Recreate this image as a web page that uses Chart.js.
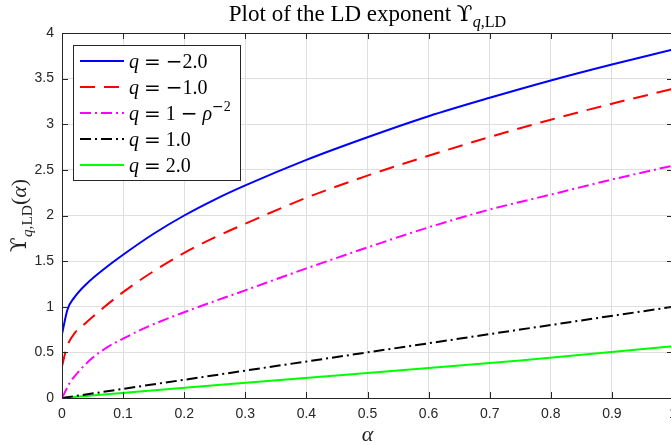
<!DOCTYPE html>
<html>
<head>
<meta charset="utf-8">
<script src="https://cdn.jsdelivr.net/npm/chart.js@4"></script>
<style>
  html, body { margin: 0; padding: 0; background: #fff; overflow: hidden; }
  #wrap { width: 671px; height: 445px; overflow: hidden; position: relative; }
  canvas { display: block; }
</style>
</head>
<body>
<div id="wrap"><canvas id="myCanvas" width="680" height="445"></canvas></div>
<script>
// values
const blueAlpha = [0, 0.009, 0.02, 0.04, 0.07, 0.1, 0.15, 0.2, 0.25, 0.3, 0.4, 0.5, 0.6, 0.7, 0.8, 0.9, 1.0];
const blueY = [0.70, 0.97, 1.10, 1.25, 1.42, 1.57, 1.80, 2.00, 2.175, 2.33, 2.61, 2.858, 3.088, 3.29, 3.48, 3.655, 3.819];

const redAlpha = [0, 0.008, 0.021, 0.035, 0.0625, 0.1, 0.15, 0.2, 0.25, 0.3, 0.4, 0.5, 0.6, 0.7, 0.8, 0.9, 1.0];
const redY = [0.347, 0.56, 0.713, 0.80, 0.96, 1.16, 1.39, 1.59, 1.76, 1.91, 2.195, 2.437, 2.655, 2.86, 3.05, 3.225, 3.388];

const magentaAlpha = [0, 0.0132, 0.03, 0.05, 0.075, 0.1, 0.133, 0.2, 0.3, 0.4, 0.5, 0.6, 0.7, 0.8, 0.9, 1.0];
const magentaY = [0, 0.17, 0.31, 0.44, 0.56, 0.65, 0.76, 0.94, 1.18, 1.42, 1.65, 1.87, 2.065, 2.229, 2.394, 2.547];

const blackAlpha = [0, 0.25, 0.5, 0.75, 1.0];
const blackY = [0, 0.25, 0.5, 0.75, 1.0];

const greenAlpha = [0, 0.25, 0.5, 0.75, 1.0];
const greenY = [0, 0.14, 0.275, 0.41, 0.566];

const seriesLabels = ['$q = −2.0$', '$q = −1.0$', '$q = 1 − ρ^{−2}$', '$q = 1.0$', '$q = 2.0$'];
const titleText = 'Plot of the LD exponent $ϒ_{q,LD}$';
const xLabelText = '$α$';
const yLabelText = '$ϒ_{q,LD}(α)$';

const axisColor = '#262626';
const serif = '"Liberation Serif", "DejaVu Serif", serif';

function points(xs, ys) {
  return xs.map((x, i) => ({ x: x, y: ys[i] }));
}

// tiny LaTeX-ish text: $..$ math, _{..} and ^{..}
function parseRich(str, size) {
  const items = [];
  let math = false;
  function walk(s, sz, dy) {
    for (let i = 0; i < s.length; i++) {
      const c = s[i];
      if (c === '$') { math = !math; continue; }
      if (math && (c === '_' || c === '^') && s[i + 1] === '{') {
        const end = s.indexOf('}', i);
        walk(s.slice(i + 2, end), sz * 0.7, dy + (c === '_' ? sz * 0.25 : -sz * 0.42));
        i = end;
        continue;
      }
      let font;
      if (!math) font = sz + 'px ' + serif;
      else if (c === ' ') { items.push({ t: '', w: sz * 0.25, dy: dy }); continue; }
      else if ('=−+'.includes(c)) font = sz + 'px "DejaVu Sans"';
      else if (c === 'ϒ') font = sz + 'px "DejaVu Serif"';
      else if (/[a-zα-ω]/.test(c)) font = 'italic ' + sz + 'px ' + serif;
      else font = sz + 'px ' + serif;
      items.push({ t: c, font: font, dy: dy });
    }
  }
  walk(str, size, 0);
  return items;
}

function drawRich(ctx, str, size, x, y, align) {
  const items = parseRich(str, size);
  let total = 0;
  items.forEach(it => {
    if (it.w == null) { ctx.font = it.font; it.w = ctx.measureText(it.t).width; }
    total += it.w;
  });
  let cx = align === 'center' ? x - total / 2 : x;
  ctx.textBaseline = 'alphabetic';
  ctx.textAlign = 'left';
  items.forEach(it => {
    if (it.t) { ctx.font = it.font; ctx.fillText(it.t, cx, y + it.dy); }
    cx += it.w;
  });
}

const decor = {
  id: 'decor',
  afterDraw(chart) {
    const ctx = chart.ctx;
    const a = chart.chartArea;
    const xs = chart.scales.x, ys = chart.scales.y;
    ctx.save();

    // box + inward ticks
    ctx.strokeStyle = axisColor;
    ctx.lineWidth = 1;
    ctx.strokeRect(Math.round(a.left) + 0.5, Math.round(a.top) + 0.5,
      Math.round(a.right - a.left), Math.round(a.bottom - a.top));
    ctx.beginPath();
    xs.ticks.forEach(t => {
      const px = Math.round(xs.getPixelForValue(t.value)) + 0.5;
      ctx.moveTo(px, a.bottom); ctx.lineTo(px, a.bottom - 6);
      ctx.moveTo(px, a.top); ctx.lineTo(px, a.top + 6);
    });
    ys.ticks.forEach(t => {
      const py = Math.round(ys.getPixelForValue(t.value)) + 0.5;
      ctx.moveTo(a.left, py); ctx.lineTo(a.left + 6, py);
      ctx.moveTo(a.right, py); ctx.lineTo(a.right - 6, py);
    });
    ctx.stroke();

    // titles
    ctx.fillStyle = '#000';
    drawRich(ctx, titleText, 23, (a.left + a.right) / 2, 21, 'center');
    ctx.fillStyle = axisColor;
    drawRich(ctx, xLabelText, 22, (a.left + a.right) / 2, 441, 'center');
    ctx.save();
    ctx.translate(26, (a.top + a.bottom) / 2);
    ctx.rotate(-Math.PI / 2);
    drawRich(ctx, yLabelText, 22, 0, 0, 'center');
    ctx.restore();

    // legend
    const lx = a.left + 11.5, ly = a.top + 12.5, lw = 167, lh = 135;
    ctx.fillStyle = '#fff';
    ctx.fillRect(lx, ly, lw, lh);
    ctx.strokeStyle = axisColor;
    ctx.lineWidth = 1;
    ctx.strokeRect(lx, ly, lw, lh);
    chart.data.datasets.forEach((ds, i) => {
      const ry = Math.round(ly + 15.5 + i * 26);
      ctx.beginPath();
      ctx.strokeStyle = ds.borderColor;
      ctx.lineWidth = ds.borderWidth;
      ctx.setLineDash(ds.borderDash || []);
      ctx.moveTo(lx + 6.5, ry);
      ctx.lineTo(lx + 50.5, ry);
      ctx.stroke();
      ctx.setLineDash([]);
      ctx.fillStyle = '#000';
      drawRich(ctx, ds.label, 20, lx + 55.5, ry + 6.5, 'left');
    });
    ctx.restore();
  }
};

const tickFont = { family: '"Liberation Sans", Arial, sans-serif', size: 14 };
const plainNumber = v => String(Math.round(v * 100) / 100);

const ctx = document.getElementById('myCanvas').getContext('2d');
const chart = new Chart(ctx, {
  type: 'line',
  data: {
    datasets: [{
      label: seriesLabels[0],
      data: points(blueAlpha, blueY),
      borderColor: '#0000ff',
      borderWidth: 2,
      cubicInterpolationMode: 'monotone'
    }, {
      label: seriesLabels[1],
      data: points(redAlpha, redY),
      borderColor: '#ff0000',
      borderWidth: 2,
      borderDash: [15, 9],
      cubicInterpolationMode: 'monotone'
    }, {
      label: seriesLabels[2],
      data: points(magentaAlpha, magentaY),
      borderColor: '#ff00ff',
      borderWidth: 2,
      borderDash: [11, 4, 2, 4],
      cubicInterpolationMode: 'monotone'
    }, {
      label: seriesLabels[3],
      data: points(blackAlpha, blackY),
      borderColor: '#000000',
      borderWidth: 2,
      borderDash: [11, 4, 2, 4]
    }, {
      label: seriesLabels[4],
      data: points(greenAlpha, greenY),
      borderColor: '#00ff00',
      borderWidth: 2
    }]
  },
  options: {
    responsive: false,
    animation: false,
    devicePixelRatio: 1,
    layout: { padding: { top: 33, right: 7, left: 0, bottom: 0 } },
    elements: { point: { radius: 0 }, line: { fill: false, borderCapStyle: 'butt' } },
    scales: {
      x: {
        type: 'linear',
        min: 0,
        max: 1,
        afterFit: s => { s.height = 47; s.paddingLeft = 0; s.paddingRight = 0; },
        ticks: { stepSize: 0.1, font: tickFont, color: axisColor, padding: 8, maxRotation: 0, autoSkip: false,
                 callback: plainNumber },
        grid: { color: '#dfdfdf', drawTicks: false },
        border: { display: false }
      },
      y: {
        min: 0,
        max: 4,
        afterFit: s => { s.width = 62; s.paddingTop = 0; s.paddingBottom = 0; },
        ticks: { stepSize: 0.5, font: tickFont, color: axisColor, padding: 8, callback: plainNumber },
        grid: { color: '#dfdfdf', drawTicks: false },
        border: { display: false }
      }
    },
    plugins: {
      legend: { display: false },
      title: { display: false },
      tooltip: { enabled: false }
    }
  },
  plugins: [decor]
});
</script>
</body>
</html>
